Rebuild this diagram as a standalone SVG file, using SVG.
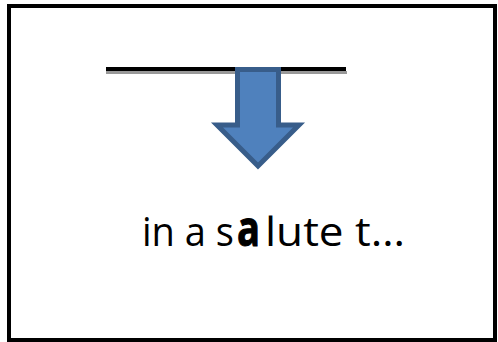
<svg xmlns="http://www.w3.org/2000/svg" width="498" height="342" viewBox="0 0 498 342">
<style>
.t{font-family:"Open Sans","Liberation Sans",sans-serif;fill:#000;font-size:40px}
.b{font-family:"Open Sans","Liberation Sans",sans-serif;fill:#000;font-size:50px;font-weight:bold;stroke:#000;stroke-width:1}
</style>
<rect x="0" y="0" width="498" height="342" fill="#fff"/>
<g id="frame">
<rect x="9" y="6" width="486" height="334" fill="#fff" stroke="#000" stroke-width="4"/>
</g>
<g id="bar">
<rect x="106" y="71" width="241" height="3" fill="#999"/>
<rect x="106" y="67" width="240" height="4" fill="#000"/>
</g>
<g id="arrow">
<polygon points="237.5,69.5 278.5,69.5 278.5,125 299,125 258,166 217,125 237.5,125" fill="#4F81BD" stroke="#385D8A" stroke-width="5" stroke-linejoin="miter"/>
</g>
<g id="label">
<text class="t" x="142" y="246" textLength="92" lengthAdjust="spacingAndGlyphs">in a s</text>
<text class="b" x="237" y="246" textLength="23" lengthAdjust="spacingAndGlyphs">a</text>
<text class="t" x="265" y="246" textLength="140" lengthAdjust="spacingAndGlyphs">lute t…</text>
</g>
</svg>
